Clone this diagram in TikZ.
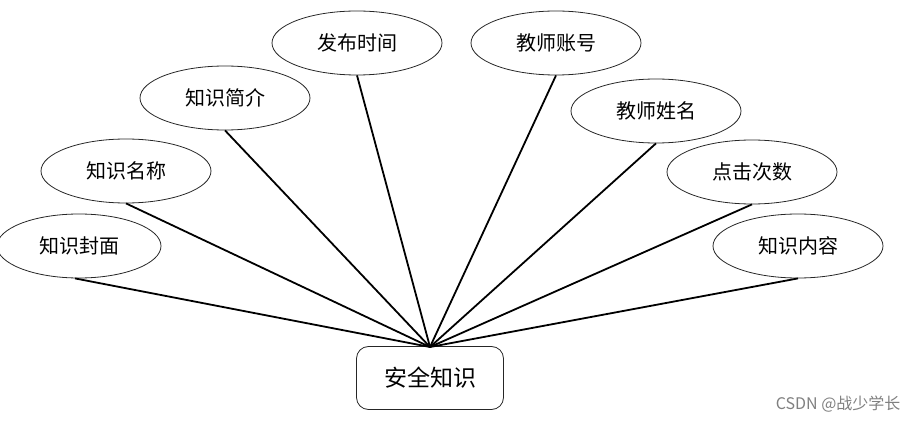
\documentclass[tikz,border=0pt]{standalone}
\usepackage{fontspec}
\newfontfamily\cjk{Noto Sans CJK SC}
\usetikzlibrary{shapes.geometric}
\begin{document}
\begin{tikzpicture}[x=1pt,y=-1pt,
  attr/.style={draw=black!85,line width=0.8pt,ellipse,minimum width=170pt,minimum height=64pt,inner sep=0pt,font=\cjk\fontsize{20}{24}\selectfont},
  ent/.style={draw=black!85,line width=0.8pt,rounded corners=12pt,minimum width=147pt,minimum height=63pt,inner sep=0pt,font=\cjk\fontsize{23}{27}\selectfont},
  link/.style={line width=1.8pt,black}]
\useasboundingbox (0,0) rectangle (919,422);
\node[ent] (e) at (430,378) {安全知识};
\node[attr,minimum width=164pt] (a1) at (79,246) {知识封面};
\node[attr] (a2) at (126,171) {知识名称};
\node[attr] (a3) at (225,98) {知识简介};
\node[attr] (a4) at (357,43) {发布时间};
\node[attr] (a5) at (556,43) {教师账号};
\node[attr] (a6) at (656,111) {教师姓名};
\node[attr] (a7) at (752,172) {点击次数};
\node[attr] (a8) at (798,246) {知识内容};
\coordinate (c) at (430,347);
\draw[link] (c) -- ([xshift=-4pt]a1.south);
\draw[link] (c) -- (a2.south);
\draw[link] (c) -- (a3.south);
\draw[link] (c) -- (a4.south);
\draw[link] (c) -- (a5.south);
\draw[link] (c) -- (a6.south);
\draw[link] (c) -- (a7.south);
\draw[link] (c) -- (a8.south);
\node[font=\cjk\fontsize{16}{18}\selectfont,text=black!50,anchor=east] (wm) at (904,404) {CSDN @战少学长};
\end{tikzpicture}
\end{document}
